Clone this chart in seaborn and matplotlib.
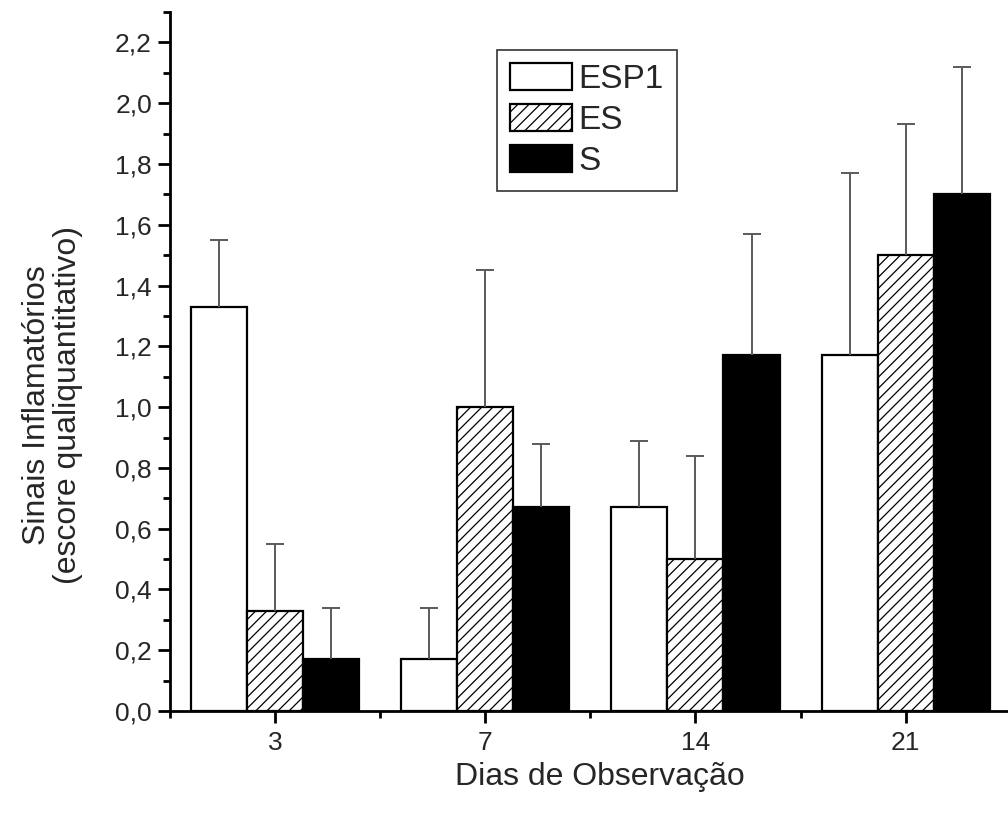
import pandas as pd
import matplotlib
matplotlib.use("Agg")
import matplotlib.pyplot as plt
from matplotlib.ticker import MultipleLocator, FuncFormatter
import seaborn as sns

dias = ["3", "7", "14", "21"]
grupos = ["ESP1", "ES", "S"]
esp1 = [1.33, 0.17, 0.67, 1.17]
es = [0.33, 1.00, 0.50, 1.50]
s = [0.17, 0.67, 1.17, 1.70]
erro_esp1 = [0.22, 0.17, 0.22, 0.60]
erro_es = [0.22, 0.45, 0.34, 0.43]
erro_s = [0.17, 0.21, 0.40, 0.42]

valores = {"ESP1": esp1, "ES": es, "S": s}
erros = {"ESP1": erro_esp1, "ES": erro_es, "S": erro_s}

df = pd.DataFrame([
    {"dia": d, "grupo": g, "valor": valores[g][i]}
    for g in grupos for i, d in enumerate(dias)
])

sns.set_theme(style="white")
plt.rcParams["font.family"] = ["Liberation Sans", "DejaVu Sans"]
plt.rcParams["hatch.linewidth"] = 0.9

fig = plt.figure(figsize=(10.08, 8.14), dpi=100)
ax = fig.add_axes([0.1687, 0.1265, 0.834, 0.8587])

sns.barplot(data=df, x="dia", y="valor", hue="grupo", order=dias,
            hue_order=grupos, palette=["white", "white", "black"],
            errorbar=None, width=0.8, saturation=1, ax=ax,
            edgecolor="black", linewidth=1.6)

hatches = {"ESP1": "", "ES": "///", "S": ""}
for g, cont in zip(grupos, ax.containers):
    xs = []
    for bar in cont:
        bar.set_hatch(hatches[g])
        bar.set_edgecolor("black")
        xs.append(bar.get_x() + bar.get_width() / 2)
    eb = ax.errorbar(xs, valores[g], yerr=[[0] * len(dias), erros[g]],
                     fmt="none", ecolor="#5a5a5a", elinewidth=1.4,
                     capsize=6.5, capthick=1.4, zorder=1)
    # only the upper cap is shown
    eb[1][0].set_visible(False)

ax.set_xlim(-0.5, 3.5)
ax.set_ylim(0, 2.3)
ax.yaxis.set_major_locator(MultipleLocator(0.2))
ax.yaxis.set_minor_locator(MultipleLocator(0.1))
ax.yaxis.set_major_formatter(FuncFormatter(lambda v, p: f"{v:.1f}".replace(".", ",")))
ax.set_xticks(range(len(dias)))
ax.set_xticks([i + 0.5 for i in range(-1, len(dias))], minor=True)

for side in ["top", "right"]:
    ax.spines[side].set_visible(False)
for side in ["left", "bottom"]:
    ax.spines[side].set_linewidth(2)
    ax.spines[side].set_color("black")

ax.tick_params(which="major", direction="out", length=8.5, width=2,
               labelsize=19, color="black", left=True, bottom=True)
ax.tick_params(which="minor", direction="out", length=5, width=2,
               color="black", left=True, bottom=True)
ax.tick_params(axis="y", pad=4.5)
ax.tick_params(axis="x", pad=6)

ax.set_xlabel("Dias de Observação", fontsize=23, va="center", ha="center")
ax.xaxis.set_label_coords(0.511, -0.095)
ax.set_ylabel("Sinais Inflamatórios\n(escore qualiquantitativo)",
              fontsize=23, linespacing=1.05, va="center", ha="center")
ax.yaxis.set_label_coords(-0.14, 0.438)

handles, labels = ax.get_legend_handles_labels()
for h, g in zip(handles, grupos):
    h.set_hatch(hatches[g])
    h.set_edgecolor("black")
leg = ax.legend(handles, labels, loc="upper left",
                bbox_to_anchor=(0.389, 0.946), fontsize=24,
                frameon=True, fancybox=False, handlelength=1.85,
                handleheight=0.85, labelspacing=0.28, handletextpad=0.2,
                borderpad=0.4, borderaxespad=0)
leg.get_frame().set_edgecolor("black")
leg.get_frame().set_linewidth(1.2)

fig.savefig("out.png", dpi=100)
